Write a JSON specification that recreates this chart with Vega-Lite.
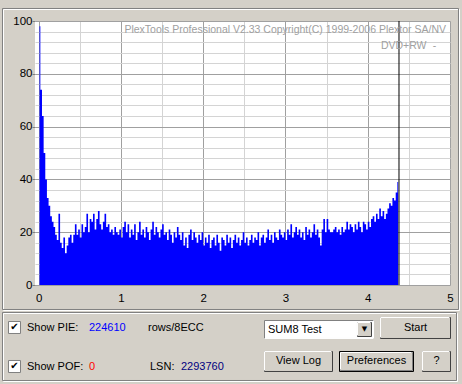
{
  "$schema": "https://vega.github.io/schema/vega-lite/v6.json",
  "width": 415,
  "height": 264,
  "autosize": {"type": "none"},
  "padding": {"left": 35, "top": 21, "right": 12, "bottom": 99},
  "background": "#D4D0C8",
  "config": {
    "view": {"fill": "#FFFFFF", "stroke": null},
    "font": "Liberation Sans",
    "axis": {"labelOverlap": false, "labelFlush": false, "title": null},
    "text": {"font": "Liberation Sans", "fontSize": 11, "color": "#000000"}
  },
  "resolve": {"axis": {"x": "independent", "y": "independent"}},
  "datasets": {
    "pie": [
      {"gb":0.01,"pie":98},{"gb":0.03,"pie":74},{"gb":0.05,"pie":64},{"gb":0.07,"pie":50},{"gb":0.09,"pie":40},
      {"gb":0.11,"pie":33},{"gb":0.13,"pie":30},{"gb":0.15,"pie":26},{"gb":0.17,"pie":24},{"gb":0.19,"pie":22},
      {"gb":0.21,"pie":19},{"gb":0.23,"pie":17},{"gb":0.25,"pie":27},{"gb":0.27,"pie":16},{"gb":0.29,"pie":14},
      {"gb":0.31,"pie":18},{"gb":0.33,"pie":12},{"gb":0.35,"pie":15},{"gb":0.37,"pie":18},{"gb":0.39,"pie":19},
      {"gb":0.41,"pie":16},{"gb":0.43,"pie":19},{"gb":0.45,"pie":23},{"gb":0.47,"pie":19},{"gb":0.49,"pie":21},
      {"gb":0.51,"pie":18},{"gb":0.53,"pie":23},{"gb":0.55,"pie":20},{"gb":0.57,"pie":22},{"gb":0.59,"pie":27},
      {"gb":0.61,"pie":20},{"gb":0.63,"pie":25},{"gb":0.65,"pie":24},{"gb":0.67,"pie":27},{"gb":0.69,"pie":21},
      {"gb":0.71,"pie":25},{"gb":0.73,"pie":28},{"gb":0.75,"pie":23},{"gb":0.77,"pie":21},{"gb":0.79,"pie":24},
      {"gb":0.81,"pie":27},{"gb":0.83,"pie":22},{"gb":0.85,"pie":23},{"gb":0.87,"pie":20},{"gb":0.89,"pie":21},
      {"gb":0.91,"pie":19},{"gb":0.93,"pie":22},{"gb":0.95,"pie":20},{"gb":0.97,"pie":19},{"gb":0.99,"pie":21},
      {"gb":1.01,"pie":18},{"gb":1.03,"pie":22},{"gb":1.05,"pie":24},{"gb":1.07,"pie":20},{"gb":1.09,"pie":23},
      {"gb":1.11,"pie":18},{"gb":1.13,"pie":21},{"gb":1.15,"pie":19},{"gb":1.17,"pie":23},{"gb":1.19,"pie":17},
      {"gb":1.21,"pie":20},{"gb":1.23,"pie":24},{"gb":1.25,"pie":19},{"gb":1.27,"pie":21},{"gb":1.29,"pie":18},
      {"gb":1.31,"pie":22},{"gb":1.33,"pie":20},{"gb":1.35,"pie":17},{"gb":1.37,"pie":21},{"gb":1.39,"pie":24},
      {"gb":1.41,"pie":19},{"gb":1.43,"pie":22},{"gb":1.45,"pie":20},{"gb":1.47,"pie":18},{"gb":1.49,"pie":21},
      {"gb":1.51,"pie":23},{"gb":1.53,"pie":19},{"gb":1.55,"pie":20},{"gb":1.57,"pie":17},{"gb":1.59,"pie":21},
      {"gb":1.61,"pie":19},{"gb":1.63,"pie":16},{"gb":1.65,"pie":20},{"gb":1.67,"pie":18},{"gb":1.69,"pie":22},
      {"gb":1.71,"pie":19},{"gb":1.73,"pie":17},{"gb":1.75,"pie":20},{"gb":1.77,"pie":15},{"gb":1.79,"pie":18},
      {"gb":1.81,"pie":14},{"gb":1.83,"pie":19},{"gb":1.85,"pie":21},{"gb":1.87,"pie":17},{"gb":1.89,"pie":20},
      {"gb":1.91,"pie":18},{"gb":1.93,"pie":16},{"gb":1.95,"pie":19},{"gb":1.97,"pie":17},{"gb":1.99,"pie":20},
      {"gb":2.01,"pie":15},{"gb":2.03,"pie":18},{"gb":2.05,"pie":16},{"gb":2.07,"pie":19},{"gb":2.09,"pie":14},
      {"gb":2.11,"pie":17},{"gb":2.13,"pie":18},{"gb":2.15,"pie":15},{"gb":2.17,"pie":19},{"gb":2.19,"pie":16},
      {"gb":2.21,"pie":13},{"gb":2.23,"pie":18},{"gb":2.25,"pie":17},{"gb":2.27,"pie":15},{"gb":2.29,"pie":19},
      {"gb":2.31,"pie":16},{"gb":2.33,"pie":18},{"gb":2.35,"pie":14},{"gb":2.37,"pie":17},{"gb":2.39,"pie":19},
      {"gb":2.41,"pie":16},{"gb":2.43,"pie":18},{"gb":2.45,"pie":15},{"gb":2.47,"pie":17},{"gb":2.49,"pie":20},
      {"gb":2.51,"pie":16},{"gb":2.53,"pie":18},{"gb":2.55,"pie":15},{"gb":2.57,"pie":17},{"gb":2.59,"pie":19},
      {"gb":2.61,"pie":16},{"gb":2.63,"pie":18},{"gb":2.65,"pie":17},{"gb":2.67,"pie":20},{"gb":2.69,"pie":15},
      {"gb":2.71,"pie":18},{"gb":2.73,"pie":19},{"gb":2.75,"pie":16},{"gb":2.77,"pie":18},{"gb":2.79,"pie":21},
      {"gb":2.81,"pie":17},{"gb":2.83,"pie":19},{"gb":2.85,"pie":16},{"gb":2.87,"pie":20},{"gb":2.89,"pie":18},
      {"gb":2.91,"pie":17},{"gb":2.93,"pie":21},{"gb":2.95,"pie":19},{"gb":2.97,"pie":18},{"gb":2.99,"pie":20},
      {"gb":3.01,"pie":17},{"gb":3.03,"pie":21},{"gb":3.05,"pie":19},{"gb":3.07,"pie":23},{"gb":3.09,"pie":18},
      {"gb":3.11,"pie":20},{"gb":3.13,"pie":22},{"gb":3.15,"pie":19},{"gb":3.17,"pie":21},{"gb":3.19,"pie":18},
      {"gb":3.21,"pie":20},{"gb":3.23,"pie":17},{"gb":3.25,"pie":22},{"gb":3.27,"pie":19},{"gb":3.29,"pie":21},
      {"gb":3.31,"pie":18},{"gb":3.33,"pie":20},{"gb":3.35,"pie":23},{"gb":3.37,"pie":19},{"gb":3.39,"pie":21},
      {"gb":3.41,"pie":18},{"gb":3.43,"pie":15},{"gb":3.45,"pie":21},{"gb":3.47,"pie":25},{"gb":3.49,"pie":20},
      {"gb":3.51,"pie":25},{"gb":3.53,"pie":21},{"gb":3.55,"pie":20},{"gb":3.57,"pie":20},{"gb":3.59,"pie":21},
      {"gb":3.61,"pie":22},{"gb":3.63,"pie":20},{"gb":3.65,"pie":21},{"gb":3.67,"pie":19},{"gb":3.69,"pie":22},
      {"gb":3.71,"pie":20},{"gb":3.73,"pie":21},{"gb":3.75,"pie":24},{"gb":3.77,"pie":21},{"gb":3.79,"pie":23},
      {"gb":3.81,"pie":22},{"gb":3.83,"pie":20},{"gb":3.85,"pie":23},{"gb":3.87,"pie":21},{"gb":3.89,"pie":24},
      {"gb":3.91,"pie":22},{"gb":3.93,"pie":20},{"gb":3.95,"pie":24},{"gb":3.97,"pie":23},{"gb":3.99,"pie":21},
      {"gb":4.01,"pie":24},{"gb":4.03,"pie":22},{"gb":4.05,"pie":25},{"gb":4.07,"pie":26},{"gb":4.09,"pie":24},
      {"gb":4.11,"pie":27},{"gb":4.13,"pie":25},{"gb":4.15,"pie":29},{"gb":4.17,"pie":26},{"gb":4.19,"pie":28},
      {"gb":4.21,"pie":25},{"gb":4.23,"pie":27},{"gb":4.25,"pie":29},{"gb":4.27,"pie":31},{"gb":4.29,"pie":30},
      {"gb":4.31,"pie":33},{"gb":4.33,"pie":32},{"gb":4.35,"pie":35},{"gb":4.37,"pie":39}
    ],
    "capacity": [{"gb": 4.38}],
    "one": [{}]
  },
  "layer": [
    {
      "data": {"name": "pie"},
      "mark": {"type": "area", "color": "#0000FF", "interpolate": "step", "opacity": 1, "orient": "vertical"},
      "encoding": {
        "x": {
          "field": "gb", "type": "quantitative",
          "scale": {"domain": [-0.045, 5], "nice": false, "zero": false, "padding": 0},
          "axis": {
            "title": null,
            "values": [0,0.5,1,1.5,2,2.5,3,3.5,4,4.5,5],
            "labelExpr": "datum.value % 1 === 0 ? '' + datum.value : ''",
            "grid": true,
            "gridColor": {"condition": {"test": "datum.value % 1 === 0", "value": "#A0A0A0"}, "value": "#D4D4D4"},
            "ticks": false,
            "domain": false,
            "labelPadding": 7,
            "labelFont": "Liberation Sans",
            "labelFontSize": 11.5,
            "labelColor": "#000000",
            "labelFlush": false,
            "labelOverlap": false
          }
        },
        "y": {
          "field": "pie", "type": "quantitative",
          "scale": {"domain": [0, 100], "nice": false, "zero": false, "padding": 0},
          "axis": {
            "title": null,
            "values": [0,4,8,12,16,20,24,28,32,36,40,44,48,52,56,60,64,68,72,76,80,84,88,92,96,100],
            "labelExpr": "datum.value % 20 === 0 ? '' + datum.value : ''",
            "grid": true,
            "gridColor": {"condition": {"test": "datum.value % 20 === 0", "value": "#A0A0A0"}, "value": "#D4D4D4"},
            "ticks": true,
            "tickSize": 3,
            "tickColor": "#808080",
            "tickOpacity": {"condition": {"test": "datum.value % 20 === 0", "value": 1}, "value": 0},
            "domain": false,
            "labelPadding": 0,
            "labelFont": "Liberation Sans",
            "labelFontSize": {"condition": {"test": "datum.value % 20 === 0", "value": 11.5}, "value": 0},
            "labelColor": "#000000",
            "labelFlush": false,
            "labelOverlap": false,
            "labelBound": false
          }
        }
      }
    },
    {
      "data": {"name": "capacity"},
      "mark": {"type": "rule", "color": "#000000", "strokeWidth": 1},
      "encoding": {"x": {"field": "gb", "type": "quantitative", "axis": null}}
    },
    {
      "data": {"name": "one"},
      "mark": {"type": "text", "text": "PlexTools Professional V2.33 Copyright(C) 1999-2006 Plextor SA/NV", "align": "right", "baseline": "middle", "color": "#A0A0A0", "fontSize": 10.5},
      "encoding": {"x": {"datum": 4.9514, "axis": null}, "y": {"datum": 96.402, "axis": null}}
    },
    {
      "data": {"name": "one"},
      "mark": {"type": "text", "text": "DVD+RW", "align": "right", "baseline": "middle", "color": "#A0A0A0", "fontSize": 10.5},
      "encoding": {"x": {"datum": 4.7144, "axis": null}, "y": {"datum": 90.53, "axis": null}}
    },
    {
      "data": {"name": "one"},
      "mark": {"type": "text", "text": "-", "align": "center", "baseline": "middle", "color": "#A0A0A0", "fontSize": 10.5},
      "encoding": {"x": {"datum": 4.8116, "axis": null}, "y": {"datum": 90.53, "axis": null}}
    },
    {
      "data": {"name": "one"},
      "mark": {"type": "rect", "fill": "transparent", "stroke": "#FFFFFF", "strokeWidth": 1},
      "encoding": {"x": {"datum": -0.4279, "axis": null}, "x2": {"datum": 5.1155}, "y": {"datum": 104.356, "axis": null}, "y2": {"datum": -9.659}}
    },
    {
      "data": {"name": "one"},
      "mark": {"type": "rect", "fill": "transparent", "stroke": "#808080", "strokeWidth": 1},
      "encoding": {"x": {"datum": -0.4401, "axis": null}, "x2": {"datum": 5.1033}, "y": {"datum": 104.735, "axis": null}, "y2": {"datum": -9.28}}
    },
    {
      "data": {"name": "one"},
      "mark": {"type": "rect", "fill": "transparent", "stroke": "#FFFFFF", "strokeWidth": 1},
      "encoding": {"x": {"datum": -0.4279, "axis": null}, "x2": {"datum": 5.0912}, "y": {"datum": -10.795, "axis": null}, "y2": {"datum": -36.553}}
    },
    {
      "data": {"name": "one"},
      "mark": {"type": "rect", "fill": "transparent", "stroke": "#808080", "strokeWidth": 1},
      "encoding": {"x": {"datum": -0.4401, "axis": null}, "x2": {"datum": 5.079}, "y": {"datum": -10.417, "axis": null}, "y2": {"datum": -36.174}}
    },
    {
      "data": {"name": "one"},
      "mark": {"type": "rect", "fill": "#FFFFFF", "stroke": "#808080", "strokeWidth": 1},
      "encoding": {"x": {"datum": -0.3672, "axis": null}, "x2": {"datum": -0.2213}, "y": {"datum": -13.826, "axis": null}, "y2": {"datum": -18.371}}
    },
    {
      "data": {"name": "one"},
      "mark": {"type": "rect", "fill": "#FFFFFF", "stroke": "#808080", "strokeWidth": 1},
      "encoding": {"x": {"datum": -0.3672, "axis": null}, "x2": {"datum": -0.2213}, "y": {"datum": -28.598, "axis": null}, "y2": {"datum": -33.144}}
    },
    {
      "data": {"name": "one"},
      "mark": {"type": "text", "text": "✔", "align": "center", "baseline": "middle", "font": "DejaVu Sans", "fontSize": 10},
      "encoding": {"x": {"datum": -0.2942, "axis": null}, "y": {"datum": -16.098, "axis": null}}
    },
    {
      "data": {"name": "one"},
      "mark": {"type": "text", "text": "✔", "align": "center", "baseline": "middle", "font": "DejaVu Sans", "fontSize": 10},
      "encoding": {"x": {"datum": -0.2942, "axis": null}, "y": {"datum": -30.871, "axis": null}}
    },
    {
      "data": {"name": "one"},
      "mark": {"type": "text", "text": "Show PIE:", "align": "left", "baseline": "middle"},
      "encoding": {"x": {"datum": -0.1423, "axis": null}, "y": {"datum": -16.288, "axis": null}}
    },
    {
      "data": {"name": "one"},
      "mark": {"type": "text", "text": "224610", "align": "left", "baseline": "middle", "color": "#0000FF"},
      "encoding": {"x": {"datum": 0.6115, "axis": null}, "y": {"datum": -16.288, "axis": null}}
    },
    {
      "data": {"name": "one"},
      "mark": {"type": "text", "text": "rows/8ECC", "align": "left", "baseline": "middle"},
      "encoding": {"x": {"datum": 1.3287, "axis": null}, "y": {"datum": -16.288, "axis": null}}
    },
    {
      "data": {"name": "one"},
      "mark": {"type": "text", "text": "Show POF:", "align": "left", "baseline": "middle"},
      "encoding": {"x": {"datum": -0.1423, "axis": null}, "y": {"datum": -31.061, "axis": null}}
    },
    {
      "data": {"name": "one"},
      "mark": {"type": "text", "text": "0", "align": "left", "baseline": "middle", "color": "#FF0000"},
      "encoding": {"x": {"datum": 0.6115, "axis": null}, "y": {"datum": -31.061, "axis": null}}
    },
    {
      "data": {"name": "one"},
      "mark": {"type": "text", "text": "LSN:", "align": "left", "baseline": "middle"},
      "encoding": {"x": {"datum": 1.353, "axis": null}, "y": {"datum": -31.061, "axis": null}}
    },
    {
      "data": {"name": "one"},
      "mark": {"type": "text", "text": "2293760", "align": "left", "baseline": "middle", "color": "#000080"},
      "encoding": {"x": {"datum": 1.7299, "axis": null}, "y": {"datum": -31.061, "axis": null}}
    },
    {
      "data": {"name": "one"},
      "mark": {"type": "rect", "fill": "#FFFFFF", "stroke": "#808080", "strokeWidth": 1},
      "encoding": {"x": {"datum": 2.745, "axis": null}, "x2": {"datum": 4.07}, "y": {"datum": -13.447, "axis": null}, "y2": {"datum": -20.265}}
    },
    {
      "data": {"name": "one"},
      "mark": {"type": "rule", "color": "#FFFFFF", "strokeWidth": 1},
      "encoding": {"x": {"datum": 2.745, "axis": null}, "x2": {"datum": 4.07}, "y": {"datum": -20.265, "axis": null}}
    },
    {
      "data": {"name": "one"},
      "mark": {"type": "rule", "color": "#FFFFFF", "strokeWidth": 1},
      "encoding": {"x": {"datum": 4.07, "axis": null}, "y": {"datum": -13.447, "axis": null}, "y2": {"datum": -20.265}}
    },
    {
      "data": {"name": "one"},
      "mark": {"type": "rect", "fill": "#D4D0C8", "stroke": "#404040", "strokeWidth": 1},
      "encoding": {"x": {"datum": 3.8755, "axis": null}, "x2": {"datum": 4.0457}, "y": {"datum": -14.205, "axis": null}, "y2": {"datum": -19.508}}
    },
    {
      "data": {"name": "one"},
      "mark": {"type": "rule", "color": "#FFFFFF", "strokeWidth": 1},
      "encoding": {"x": {"datum": 3.8755, "axis": null}, "x2": {"datum": 4.0335}, "y": {"datum": -14.205, "axis": null}}
    },
    {
      "data": {"name": "one"},
      "mark": {"type": "rule", "color": "#FFFFFF", "strokeWidth": 1},
      "encoding": {"x": {"datum": 3.8755, "axis": null}, "y": {"datum": -14.205, "axis": null}, "y2": {"datum": -19.129}}
    },
    {
      "data": {"name": "one"},
      "mark": {"type": "text", "text": "▼", "align": "center", "baseline": "middle", "font": "DejaVu Sans", "fontSize": 7},
      "encoding": {"x": {"datum": 3.9606, "axis": null}, "y": {"datum": -16.856, "axis": null}}
    },
    {
      "data": {"name": "one"},
      "mark": {"type": "text", "text": "SUM8 Test", "align": "left", "baseline": "middle"},
      "encoding": {"x": {"datum": 2.7875, "axis": null}, "y": {"datum": -17.045, "axis": null}}
    },
    {
      "data": {"name": "one"},
      "mark": {"type": "rect", "fill": "#D4D0C8", "stroke": "#404040", "strokeWidth": 1},
      "encoding": {"x": {"datum": 4.1551, "axis": null}, "x2": {"datum": 5.0061}, "y": {"datum": -12.311, "axis": null}, "y2": {"datum": -20.265}}
    },
    {
      "data": {"name": "one"},
      "mark": {"type": "rule", "color": "#FFFFFF", "strokeWidth": 1},
      "encoding": {"x": {"datum": 4.1551, "axis": null}, "x2": {"datum": 4.9939}, "y": {"datum": -12.311, "axis": null}}
    },
    {
      "data": {"name": "one"},
      "mark": {"type": "rule", "color": "#FFFFFF", "strokeWidth": 1},
      "encoding": {"x": {"datum": 4.1551, "axis": null}, "y": {"datum": -12.311, "axis": null}, "y2": {"datum": -19.886}}
    },
    {
      "data": {"name": "one"},
      "mark": {"type": "text", "text": "Start", "align": "center", "baseline": "middle"},
      "encoding": {"x": {"datum": 4.5806, "axis": null}, "y": {"datum": -16.288, "axis": null}}
    },
    {
      "data": {"name": "one"},
      "mark": {"type": "rect", "fill": "#D4D0C8", "stroke": "#404040", "strokeWidth": 1},
      "encoding": {"x": {"datum": 2.745, "axis": null}, "x2": {"datum": 3.5716}, "y": {"datum": -25.189, "axis": null}, "y2": {"datum": -32.765}}
    },
    {
      "data": {"name": "one"},
      "mark": {"type": "rule", "color": "#FFFFFF", "strokeWidth": 1},
      "encoding": {"x": {"datum": 2.745, "axis": null}, "x2": {"datum": 3.5594}, "y": {"datum": -25.189, "axis": null}}
    },
    {
      "data": {"name": "one"},
      "mark": {"type": "rule", "color": "#FFFFFF", "strokeWidth": 1},
      "encoding": {"x": {"datum": 2.745, "axis": null}, "y": {"datum": -25.189, "axis": null}, "y2": {"datum": -32.386}}
    },
    {
      "data": {"name": "one"},
      "mark": {"type": "text", "text": "View Log", "align": "center", "baseline": "middle"},
      "encoding": {"x": {"datum": 3.1583, "axis": null}, "y": {"datum": -28.977, "axis": null}}
    },
    {
      "data": {"name": "one"},
      "mark": {"type": "rect", "fill": "#D4D0C8", "stroke": "#000000", "strokeWidth": 1},
      "encoding": {"x": {"datum": 3.6567, "axis": null}, "x2": {"datum": 4.5563}, "y": {"datum": -25.189, "axis": null}, "y2": {"datum": -32.765}}
    },
    {
      "data": {"name": "one"},
      "mark": {"type": "rect", "fill": "#D4D0C8", "stroke": "#808080", "strokeWidth": 1},
      "encoding": {"x": {"datum": 3.6689, "axis": null}, "x2": {"datum": 4.5442}, "y": {"datum": -25.568, "axis": null}, "y2": {"datum": -32.386}}
    },
    {
      "data": {"name": "one"},
      "mark": {"type": "rule", "color": "#FFFFFF", "strokeWidth": 1},
      "encoding": {"x": {"datum": 3.6689, "axis": null}, "x2": {"datum": 4.532}, "y": {"datum": -25.568, "axis": null}}
    },
    {
      "data": {"name": "one"},
      "mark": {"type": "rule", "color": "#FFFFFF", "strokeWidth": 1},
      "encoding": {"x": {"datum": 3.6689, "axis": null}, "y": {"datum": -25.568, "axis": null}, "y2": {"datum": -32.008}}
    },
    {
      "data": {"name": "one"},
      "mark": {"type": "text", "text": "Preferences", "align": "center", "baseline": "middle"},
      "encoding": {"x": {"datum": 4.1065, "axis": null}, "y": {"datum": -28.977, "axis": null}}
    },
    {
      "data": {"name": "one"},
      "mark": {"type": "rect", "fill": "#D4D0C8", "stroke": "#404040", "strokeWidth": 1},
      "encoding": {"x": {"datum": 4.6657, "axis": null}, "x2": {"datum": 5.0061}, "y": {"datum": -25.189, "axis": null}, "y2": {"datum": -32.765}}
    },
    {
      "data": {"name": "one"},
      "mark": {"type": "rule", "color": "#FFFFFF", "strokeWidth": 1},
      "encoding": {"x": {"datum": 4.6657, "axis": null}, "x2": {"datum": 4.9939}, "y": {"datum": -25.189, "axis": null}}
    },
    {
      "data": {"name": "one"},
      "mark": {"type": "rule", "color": "#FFFFFF", "strokeWidth": 1},
      "encoding": {"x": {"datum": 4.6657, "axis": null}, "y": {"datum": -25.189, "axis": null}, "y2": {"datum": -32.386}}
    },
    {
      "data": {"name": "one"},
      "mark": {"type": "text", "text": "?", "align": "center", "baseline": "middle"},
      "encoding": {"x": {"datum": 4.8359, "axis": null}, "y": {"datum": -28.977, "axis": null}}
    }
  ]
}
